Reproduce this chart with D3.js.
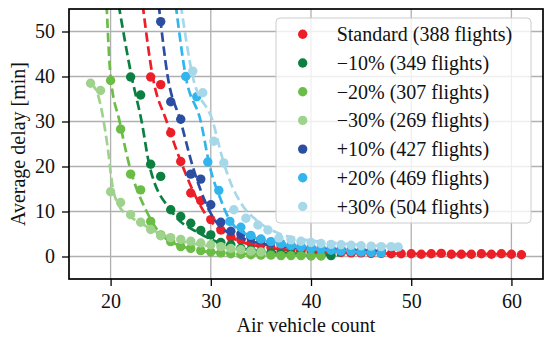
<!DOCTYPE html>
<html>
<head>
<meta charset="utf-8">
<script src="https://cdn.jsdelivr.net/npm/d3@7"></script>
<style>
  body { margin: 0; background: #fff; }
  svg { display: block; }
  svg text { font-family: "Liberation Serif", "DejaVu Serif", serif; }
</style>
</head>
<body>
<svg id="chart" width="550" height="341"></svg>
<script>
// series labels / colours (legend order)
const labels = ["Standard (388 flights)", "\u221210% (349 flights)", "\u221220% (307 flights)", "\u221230% (269 flights)",
  "+10% (427 flights)", "+20% (469 flights)", "+30% (504 flights)"];
const colors = ["#ec1f28", "#0b8040", "#6bbd45", "#9fd38d", "#2b4ea2", "#31b5ec", "#a6d8ea"];

// measured points [air vehicle count, average delay]
const standardPts = [[24,39.9],[25,38.2],[26,27.5],[27,21.1],[28,14.1],[29,12.4],[30,8.2],[31,5.9],[32,4.3],[33,3.7],
  [34,3.0],[35,2.6],[36,2.0],[37,1.8],[38,1.5],[39,1.3],[40,1.2],[41,1.1],[42,1.0],[43,0.9],[44,0.8],[45,0.8],[46,0.7],
  [47,0.7],[48,0.6],[49,0.6],[50,0.6],[51,0.5],[52,0.6],[53,0.7],[54,0.5],[55,0.5],[56,0.5],[57,0.6],[58,0.5],[59,0.6],
  [60,0.5],[61,0.4]];
const minus10Pts = [[22,39.9],[23,35.9],[24,20.5],[25,17.8],[26,10.4],[27,8.9],[28,7.4],[29,5.8],[30,4.8],[31,3.1],
  [32,2.6],[33,1.8],[34,1.5],[35,1.1],[36,0.8],[37,0.6],[38,0.5],[39,0.4],[40,0.3],[41,0.3],[42,0.2]];
const minus20Pts = [[20,39.1],[21,28.3],[22,18.3],[23,14.8],[24,7.8],[25,4.8],[26,3.3],[27,2.2],[28,1.8],[29,1.3],
  [30,1.0],[31,0.8],[32,0.6],[33,0.5],[34,0.4],[35,0.3],[36,0.3],[37,0.2],[38,0.2],[39,0.2],[40,0.1],[41,0.1]];
const minus30Pts = [[18,38.5],[19,36.9],[20,14.4],[21,12.0],[22,9.3],[23,7.6],[24,6.0],[25,4.6],[26,4.2],[27,3.8],
  [28,3.4],[29,3.0],[30,2.6],[31,2.2],[32,1.8],[33,1.5],[34,1.2],[35,1.0]];
const plus10Pts = [[25,52.2],[26,34.4],[27,30.5],[28,18.3],[29,17.2],[30,11.5],[31,7.6],[32,5.6],[33,5.0],[34,4.2],
  [35,3.7],[36,3.2],[37,2.8],[38,2.5],[39,2.2],[40,2.0],[41,1.8],[42,1.7],[43,1.6],[44,1.5],[45,1.4],[46,1.3],[47,1.2]];
const plus20Pts = [[27.5,40.0],[28.6,35.5],[29.7,21.0],[30.8,14.7],[31.9,7.8],[33,6.5],[34,4.7],[35,3.9],[36,3.3],
  [37,2.8],[38,2.4],[39,2.1],[40,1.8],[41,1.6],[42,1.4],[43,1.2],[44,1.1],[45,1.0],[46,0.9],[47,0.8]];
const plus30Pts = [[28.2,41.2],[29.2,36.4],[30.3,25.6],[31.3,20.8],[32.3,10.4],[33.5,8.5],[34.7,7.0],[35.7,5.9],
  [36.8,4.1],[38,3.7],[39,3.4],[40,3.1],[41,2.9],[42,2.7],[43,2.6],[44,2.5],[45,2.4],[46,2.3],[47,2.2],[48,2.2],[48.7,2.1]];

// fitted curves (dashed), sampled from the figure
const standardFit = [[23.2,56],[24.2,40],[25.6,30],[27.2,20],[29.3,10],[31.5,5],[35.5,2],[41,1],[50,0.6],[61,0.5]];
const minus10Fit = [[20.8,56],[22.1,40],[23.1,30],[23.9,20],[26.1,10],[29,5],[32.5,2],[36,1],[43,0.3]];
const minus20Fit = [[19.6,56],[20,40],[20.9,30],[21.9,20],[23.6,10],[25,5],[27.5,2],[30,1],[41,0.2]];
const minus30Fit = [[18,38.5],[18.7,36.2],[19.7,24.4],[20.2,15.5],[20.8,11.4],[21.9,8.9],[22.9,7.6],[24.2,5.9],
  [27.5,3.2],[31,2],[35,1]];
const plus10Fit = [[24.8,56],[25.7,40],[27,30],[28.2,20],[29.9,10],[32,5],[38,2],[47,1.2]];
const plus20Fit = [[26.5,56],[27.5,40],[29,30],[29.9,20],[31,12.6],[31.7,8.9],[33.5,5],[39,2],[47,0.8]];
const plus30Fit = [[27,56],[28.2,40],[30.2,30],[31.2,21.5],[32,16.3],[33,11.9],[34.7,7.8],[36.3,5.6],[38,4.3],
  [45,2.6],[49,2.2]];

const allPts = [standardPts, minus10Pts, minus20Pts, minus30Pts, plus10Pts, plus20Pts, plus30Pts];
const allFits = [standardFit, minus10Fit, minus20Fit, minus30Fit, plus10Fit, plus20Fit, plus30Fit];

const xTicks = [20, 30, 40, 50, 60];
const yTicks = [0, 10, 20, 30, 40, 50];

const serif = '"Liberation Serif", "DejaVu Serif", serif';
const margin = { top: 9, right: 7, bottom: 62, left: 69 };
const width = 550, height = 341;

const svg = d3.select('#chart');
const xScale = d3.scaleLinear().domain([15.85, 63.15]).range([margin.left, width - margin.right]);
const yScale = d3.scaleLinear().domain([-5, 55]).range([height - margin.bottom, margin.top]);

svg.append('clipPath').attr('id', 'clip').append('rect')
  .attr('x', margin.left).attr('y', margin.top)
  .attr('width', width - margin.left - margin.right)
  .attr('height', height - margin.top - margin.bottom);

// grid
const grid = svg.append('g');
grid.selectAll('.gx').data(xTicks).enter().append('line')
  .attr('x1', d => xScale(d)).attr('x2', d => xScale(d))
  .attr('y1', margin.top).attr('y2', height - margin.bottom)
  .attr('stroke', '#b0b0b0').attr('stroke-width', 1.3);
grid.selectAll('.gy').data(yTicks).enter().append('line')
  .attr('y1', d => yScale(d)).attr('y2', d => yScale(d))
  .attr('x1', margin.left).attr('x2', width - margin.right)
  .attr('stroke', '#b0b0b0').attr('stroke-width', 1.3);

// series
const plot = svg.append('g').attr('clip-path', 'url(#clip)');
const lineX = d3.line().x(d => xScale(d[0])).y(d => yScale(d[1])).curve(d3.curveMonotoneX);

allPts.forEach((pts, i) => {
  plot.append('g').selectAll('circle').data(pts).enter().append('circle')
    .attr('cx', d => xScale(d[0])).attr('cy', d => yScale(d[1]))
    .attr('r', 4.7).attr('fill', colors[i]);
  plot.append('path').datum(allFits[i])
    .attr('d', lineX)
    .attr('fill', 'none').attr('stroke', colors[i])
    .attr('stroke-width', 2.7).attr('stroke-dasharray', '9.5,4.5');
});

// axes
const xAxis = d3.axisBottom(xScale).tickValues(xTicks).tickSize(7).tickPadding(8).tickFormat(d3.format('d'));
const yAxis = d3.axisLeft(yScale).tickValues(yTicks).tickSize(7).tickPadding(7).tickFormat(d3.format('d'));
const gx = svg.append('g').attr('transform', `translate(0, ${height - margin.bottom})`).call(xAxis);
const gy = svg.append('g').attr('transform', `translate(${margin.left}, 0)`).call(yAxis);
[gx, gy].forEach(g => {
  g.attr('font-family', serif).attr('font-size', 20);
  g.select('.domain').remove();
  g.selectAll('line').attr('stroke', '#000').attr('stroke-width', 1.3);
  g.selectAll('text').attr('font-family', serif).attr('font-size', 20).attr('fill', '#111');
});

svg.append('rect')
  .attr('x', margin.left).attr('y', margin.top)
  .attr('width', width - margin.left - margin.right)
  .attr('height', height - margin.top - margin.bottom)
  .attr('fill', 'none').attr('stroke', '#000').attr('stroke-width', 1.7);

svg.append('text').attr('x', (margin.left + width - margin.right) / 2).attr('y', 332)
  .attr('text-anchor', 'middle').attr('font-family', serif).attr('font-size', 20).attr('fill', '#111')
  .text('Air vehicle count');
svg.append('text').attr('transform', `translate(25, ${(margin.top + height - margin.bottom) / 2}) rotate(-90)`)
  .attr('text-anchor', 'middle').attr('font-family', serif).attr('font-size', 20).attr('fill', '#111')
  .text('Average delay [min]');

// legend
const legend = svg.append('g');
legend.append('rect').attr('x', 276).attr('y', 18).attr('width', 255).attr('height', 205).attr('rx', 4)
  .attr('fill', '#fff').attr('fill-opacity', 0.8).attr('stroke', '#cccccc').attr('stroke-width', 1);
labels.forEach((lab, i) => {
  const cy = 34.3 + i * 28.7;
  legend.append('circle').attr('cx', 302.7).attr('cy', cy).attr('r', 4.7).attr('fill', colors[i]);
  legend.append('text').attr('x', 336.7).attr('y', cy).attr('dy', '0.35em')
    .attr('font-family', serif).attr('font-size', 20).attr('fill', '#111').text(lab);
});
</script>
</body>
</html>
